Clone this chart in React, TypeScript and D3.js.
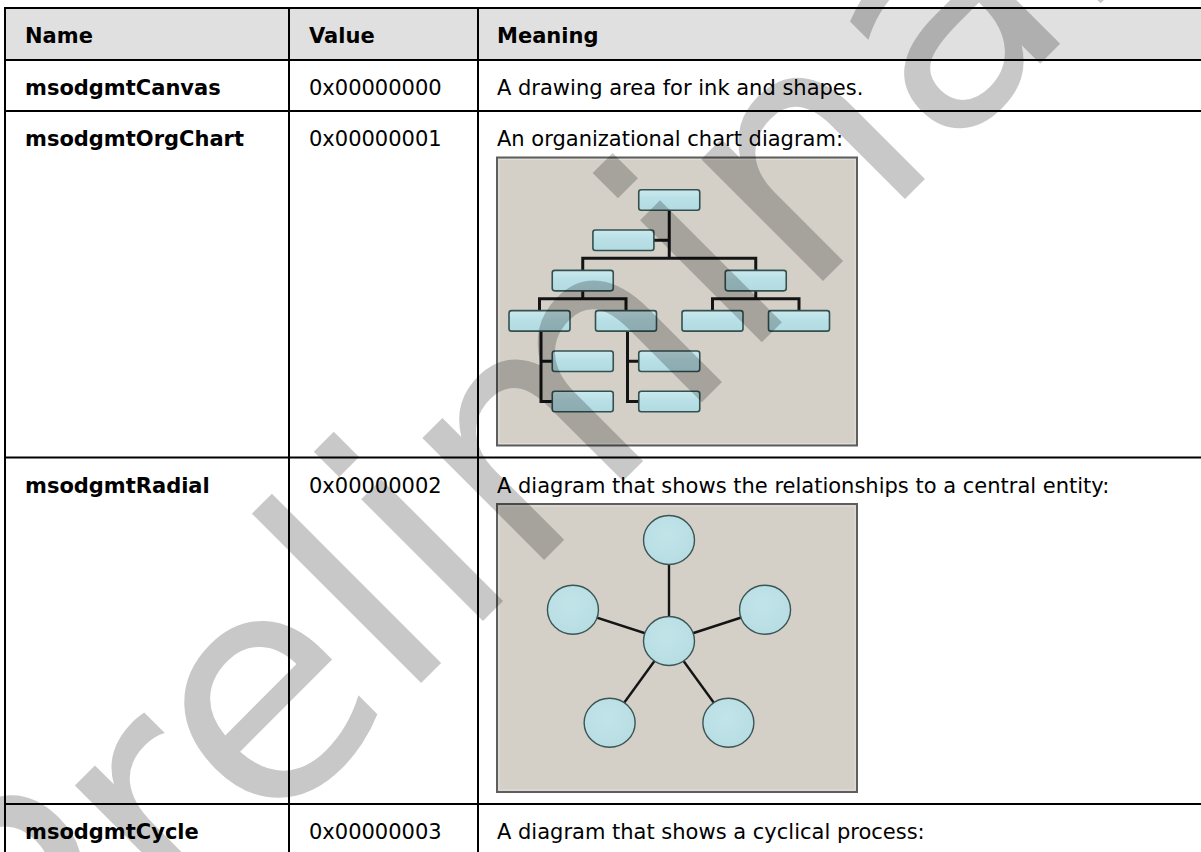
import * as d3 from "d3";

// table content
const HEADERS = ["Name", "Value", "Meaning"];
const NAMES = ["msodgmtCanvas", "msodgmtOrgChart", "msodgmtRadial", "msodgmtCycle"];
const VALUES = ["0x00000000", "0x00000001", "0x00000002", "0x00000003"];
const MEANINGS = [
  "A drawing area for ink and shapes.",
  "An organizational chart diagram:",
  "A diagram that shows the relationships to a central entity:",
  "A diagram that shows a cyclical process:",
];
const PICTURES = ["", "org", "radial", "cycle"];

// org chart nodes: level, slot (in units of bottom row spacing), parent, link kind
const ORG_LEVEL = [0, 1, 2, 2, 3, 3, 3, 3, 4, 5, 4, 5];
const ORG_SLOT = [1.5, 0.97, 0.5, 2.5, 0, 1, 2, 3, 0.5, 0.5, 1.5, 1.5];
const ORG_PARENT = [-1, 0, 0, 0, 2, 2, 3, 3, 4, 4, 5, 5];
const ORG_LINK = ["", "assistant", "bus", "bus", "bus", "bus", "bus", "bus", "hang", "hang", "hang", "hang"];
// darker tint where the watermark crosses a box is done by the watermark itself

// radial diagram: outer node angles (degrees), distance from the hub
const RADIAL_ANGLES = [0, 72, 144, 216, 288];
const RADIAL_DISTANCE = [1, 1, 1, 1, 1];

const WATERMARK = "Preliminary";

const W = 1201;
const H = 852;
const FONT = "'DejaVu Sans', Verdana, sans-serif";

const colEdges = [5, 289, 478, 1300];
const headerTop = 8;
const headerHeight = 52;
const textRowHeight = 51;
const picW = 360;
const picH = 288;
const picRowHeight = 346.5;

function OrgChart() {
  const x = d3.scaleLinear().domain([0, 3]).range([42.5, 302]);
  const y = d3.scaleLinear().domain([0, 5]).range([42.5, 244]);
  const bw = 61;
  const bh = 20.5;
  const nodes = ORG_LEVEL.map((lvl, i) => ({
    i,
    cx: x(ORG_SLOT[i]),
    cy: y(lvl),
    parent: ORG_PARENT[i],
    link: ORG_LINK[i],
  }));

  const p = d3.path();
  const byParent = d3.group(nodes.filter((n) => n.parent >= 0), (n) => n.parent, (n) => n.link);
  byParent.forEach((kinds, pi) => {
    const par = nodes[pi];
    const bottom = par.cy + bh / 2;
    const bus = kinds.get("bus");
    const asst = kinds.get("assistant");
    const hang = kinds.get("hang");
    if (bus) {
      const busY = d3.min(bus, (c) => c.cy - bh / 2) - 12;
      p.moveTo(par.cx, bottom);
      p.lineTo(par.cx, busY);
      const xs = bus.map((c) => c.cx);
      p.moveTo(d3.min(xs), busY);
      p.lineTo(d3.max(xs), busY);
      bus.forEach((c) => {
        p.moveTo(c.cx, busY);
        p.lineTo(c.cx, c.cy - bh / 2);
      });
    }
    if (asst) {
      asst.forEach((c) => {
        p.moveTo(c.cx + bw / 2, c.cy);
        p.lineTo(par.cx, c.cy);
      });
    }
    if (hang) {
      const vx = par.cx + 1.5;
      p.moveTo(vx, bottom);
      p.lineTo(vx, d3.max(hang, (c) => c.cy));
      hang.forEach((c) => {
        p.moveTo(vx, c.cy);
        p.lineTo(c.cx - bw / 2, c.cy);
      });
    }
  });

  return (
    <g>
      <path d={p.toString()} fill="none" stroke="#141414" strokeWidth={3} strokeLinecap="square" />
      {nodes.map((n) => (
        <rect
          key={n.i}
          x={n.cx - bw / 2}
          y={n.cy - bh / 2}
          width={bw}
          height={bh}
          rx={2.5}
          fill="url(#boxFill)"
          stroke="#34504f"
          strokeWidth={1.6}
        />
      ))}
    </g>
  );
}

function Radial() {
  const r = d3.scaleLinear().domain([0, 1]).range([0, 101]);
  const cx = 172;
  const cy = 137;
  const outer = RADIAL_ANGLES.map((a, i) => {
    const [dx, dy] = d3.pointRadial((a * Math.PI) / 180, r(RADIAL_DISTANCE[i]));
    return { x: cx + dx, y: cy + dy, key: i };
  });
  return (
    <g>
      {outer.map((o) => (
        <line key={`l${o.key}`} x1={cx} y1={cy} x2={o.x} y2={o.y} stroke="#141414" strokeWidth={2.4} />
      ))}
      {[{ x: cx, y: cy, key: "hub" }, ...outer].map((o) => (
        <ellipse
          key={`c${o.key}`}
          cx={o.x}
          cy={o.y}
          rx={25.5}
          ry={24.5}
          fill="url(#circleFill)"
          stroke="#3b5554"
          strokeWidth={1.4}
        />
      ))}
    </g>
  );
}

function Picture({ kind }: { kind: string }) {
  return (
    <g>
      <rect x={0} y={0} width={picW} height={picH} fill="#d4d0c8" stroke="#5e5e5e" strokeWidth={2} />
      <rect x={2} y={2} width={picW - 4} height={picH - 4} fill="none" stroke="#e2dfd9" strokeWidth={1} />
      {kind === "org" && <OrgChart />}
      {kind === "radial" && <Radial />}
    </g>
  );
}

export default function App() {
  const heights = [headerHeight, ...PICTURES.map((k) => (k && k !== "cycle" ? picRowHeight : textRowHeight))];
  const tops = [headerTop, ...Array.from(d3.cumsum(heights)).map((v) => headerTop + v)];
  const rowLines = tops;

  const textX = colEdges.slice(0, 3).map((e, i) => e + (i === 2 ? 19 : 20));
  const baseline = 35;

  // watermark baseline runs up-right at 45°, start point found from the letter positions
  const wmX = 46;
  const wmY = 1058;

  return (
    <svg
      width={W}
      height={H}
      style={{ position: "absolute", left: 0, top: 0, display: "block", background: "#fff" }}
      fontFamily={FONT}
    >
      <defs>
        <linearGradient id="boxFill" x1="0" y1="0" x2="0" y2="1">
          <stop offset="0%" stopColor="#cbe9ee" />
          <stop offset="45%" stopColor="#b8e0e6" />
          <stop offset="100%" stopColor="#b2dbe1" />
        </linearGradient>
        <radialGradient id="circleFill" cx="0.45" cy="0.4" r="0.7">
          <stop offset="0%" stopColor="#c2e4e9" />
          <stop offset="100%" stopColor="#b5dce2" />
        </radialGradient>
      </defs>

      <rect x={0} y={0} width={W} height={H} fill="#fff" />
      <rect x={colEdges[0]} y={tops[0]} width={W} height={headerHeight} fill="#e0e0e0" />

      {HEADERS.map((h, i) => (
        <text key={h} x={textX[i]} y={tops[0] + baseline} fontSize={21} fontWeight="bold" fill="#000">
          {h}
        </text>
      ))}

      {NAMES.map((name, r) => {
        const top = tops[r + 1];
        return (
          <g key={name}>
            <text x={textX[0]} y={top + baseline} fontSize={21} fontWeight="bold" fill="#000">
              {name}
            </text>
            <text x={textX[1]} y={top + baseline} fontSize={21} fill="#000">
              {VALUES[r]}
            </text>
            <text x={textX[2]} y={top + baseline} fontSize={21} fill="#000">
              {MEANINGS[r]}
            </text>
            {PICTURES[r] && PICTURES[r] !== "cycle" && (
              <g transform={`translate(${textX[2]}, ${top + baseline + 11.5})`}>
                <Picture kind={PICTURES[r]} />
              </g>
            )}
          </g>
        );
      })}

      {/* grid lines */}
      {rowLines.map((y, i) => (
        <line key={`h${i}`} x1={colEdges[0] - 1} x2={W + 10} y1={y} y2={y} stroke="#000" strokeWidth={2} />
      ))}
      {colEdges.slice(0, 3).map((x, i) => (
        <line key={`v${i}`} x1={x} x2={x} y1={tops[0] - 1} y2={H + 10} stroke="#000" strokeWidth={2} />
      ))}

      <text
        x={wmX}
        y={wmY}
        transform={`rotate(-45, ${wmX}, ${wmY})`}
        fontSize={315}
        fill="#000"
        fillOpacity={0.216}
        fontFamily="'DejaVu Sans', sans-serif"
      >
        {WATERMARK}
      </text>
    </svg>
  );
}
